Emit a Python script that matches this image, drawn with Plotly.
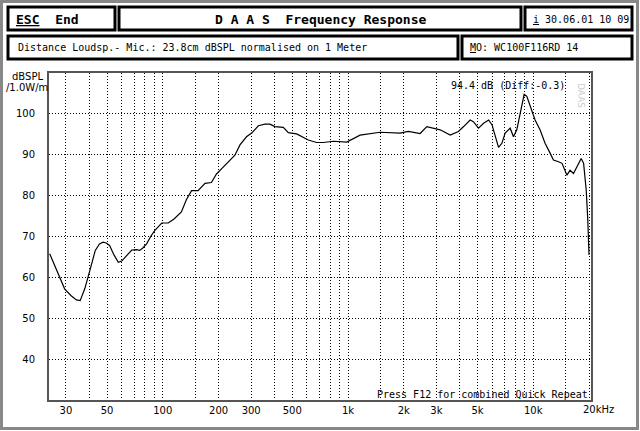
import plotly.graph_objects as go
import numpy as np

# ---- data ----
freq_hz = [24.5, 26.8, 29.5, 32, 34.2, 35.8, 37.9, 40.4, 43.2, 45.5, 47.6, 49.5, 51.6, 54.5,
           57.5, 60, 62.4, 68, 72, 75, 78, 81.8, 86, 90.6, 98.7, 107, 115, 126, 134, 143,
           155, 169, 183, 195, 208, 221, 245, 261, 283, 302, 328, 356, 379, 403, 447, 476,
           528, 610, 677, 735, 833, 984, 1161, 1489, 1758, 1910, 2118, 2450, 2663, 2800,
           3144, 3560, 3945, 4208, 4564, 4750, 5064, 5393, 5743, 5990, 6235, 6495, 6770,
           7050, 7505, 7820, 8150, 8500, 8930, 9230, 9700, 10230, 10880, 11580, 12330,
           12850, 13690, 14300, 15200, 15800, 16490, 17300, 18140, 18700, 19320, 19700, 20000]
spl_db = [65.8, 61.7, 57.2, 55.5, 54.5, 54.3, 57.2, 61.7, 66.6, 68.2, 68.6, 68.4, 67.8, 65.5,
          63.7, 64.0, 64.9, 66.7, 66.8, 66.6, 67.2, 68.2, 70.0, 71.5, 73.3, 73.3, 74.3, 76.0,
          79.0, 81.2, 81.2, 83.0, 83.2, 85.3, 86.6, 87.9, 89.9, 92.4, 94.4, 95.3, 97.1, 97.5,
          97.5, 96.9, 96.7, 95.4, 95.1, 93.6, 93.0, 93.0, 93.3, 93.1, 94.8, 95.5, 95.4, 95.3,
          95.7, 95.2, 96.9, 96.7, 96.1, 94.8, 95.7, 96.9, 98.5, 98.1, 96.5, 97.7, 98.5, 97.3,
          94.4, 91.8, 92.8, 95.3, 96.5, 94.4, 96.1, 100.2, 104.8, 104.3, 101.4, 98.5, 96.1,
          92.8, 90.4, 88.7, 88.3, 87.9, 85.0, 86.2, 85.4, 87.1, 89.1, 87.9, 81.3, 74.0, 65.5]

x_grid = [30, 40, 50, 60, 70, 80, 90, 100, 150, 200, 300, 400, 500, 600, 700, 800, 900,
          1000, 1500, 2000, 3000, 4000, 5000, 6000, 7000, 8000, 9000, 10000, 15000, 20000]
x_labels = {30: "30", 50: "50", 100: "100", 200: "200", 300: "300", 500: "500",
            1000: "1k", 2000: "2k", 3000: "3k", 5000: "5k", 10000: "10k"}
y_ticks = [40, 50, 60, 70, 80, 90, 100]

W, H = 640, 431
L, R, T, B = 49, 591, 73, 400


def px(x):
    return (x - L) / (R - L)


def py(y):
    return (B - y) / (B - T)


MONO = "DejaVu Sans Mono"
SANS = "DejaVu Sans"

fig = go.Figure()
fig.add_trace(go.Scatter(x=freq_hz, y=spl_db, mode="lines",
                         line=dict(color="black", width=1.2), showlegend=False,
                         hoverinfo="skip"))

fig.update_layout(
    width=W, height=H,
    margin=dict(l=L, r=W - R, t=T, b=H - B),
    paper_bgcolor="white", plot_bgcolor="white",
    xaxis=dict(type="log", range=[np.log10(24.3), np.log10(20500)],
               tickvals=x_grid, ticktext=[x_labels.get(v, "") for v in x_grid],
               tickangle=0,
               showgrid=True, gridcolor="black", griddash="1px,2px", gridwidth=1,
               showline=True, mirror=True, linecolor="#555", linewidth=2,
               ticks="", ticklabelstandoff=0, zeroline=False,
               tickfont=dict(family=SANS, size=10, color="black")),
    yaxis=dict(range=[30, 110], tickvals=y_ticks,
               showgrid=True, gridcolor="black", griddash="1px,2px", gridwidth=1,
               showline=True, mirror=True, linecolor="#555", linewidth=2,
               ticks="", ticklabelstandoff=10, zeroline=False,
               tickfont=dict(family=SANS, size=10, color="black")),
)

shapes = []
def box(x0, y0, x1, y1, color="black", width=3):
    shapes.append(dict(type="rect", xref="paper", yref="paper",
                       x0=px(x0), x1=px(x1), y0=py(y0), y1=py(y1),
                       line=dict(color=color, width=width), fillcolor="rgba(0,0,0,0)"))

box(1.5, 1.5, 637.5, 428.5, color="#888", width=3)
box(8, 7, 115, 30)
box(119, 7, 521, 30)
box(525, 7, 632, 30)
box(8, 36, 458, 59)
box(462, 36, 632, 59)
fig.update_layout(shapes=shapes)

def text(x, y, s, size=10, family=MONO, xanchor="left", color="black", angle=0):
    fig.add_annotation(xref="paper", yref="paper", x=px(x), y=py(y), text=s,
                       showarrow=False, xanchor=xanchor, yanchor="middle",
                       font=dict(family=family, size=size, color=color),
                       textangle=angle)

text(14, 19, "<b><u>ESC</u>  End</b>", size=13)
text(320, 19, "<b>D A A S  Frequency Response</b>", size=13, xanchor="center")
text(531, 19, "<u>i</u> 30.06.01 10 09", size=10)
text(16, 47.5, "Distance Loudsp.- Mic.: 23.8cm dBSPL normalised on 1 Meter", size=10)
text(468, 47.5, "<u>M</u>O: WC100F116RD 14", size=10)
text(27, 77, "dBSPL", size=10, family=SANS, xanchor="center")
text(27, 88, "/1.0W/m", size=10, family=SANS, xanchor="center")
text(567, 85, "94.4 dB (Diff:-0.3)", size=10, xanchor="right")
text(590, 394, "Press F12 for combined Quick Repeat", size=10, xanchor="right")
text(581, 95, "DAAS", size=9, family=SANS, xanchor="center", color="#cccccc", angle=90)
text(581, 409, "20kHz", size=10, family=SANS, xanchor="left")

fig.write_html("out.html", config={"displayModeBar": False},
               post_script="document.body.style.margin='0';document.body.style.overflow='hidden';")
